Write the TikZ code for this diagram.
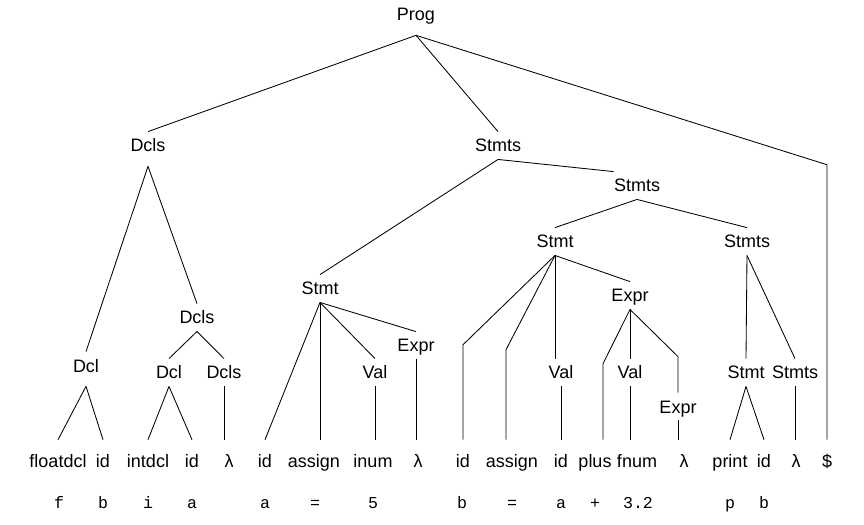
\documentclass[tikz,border=0pt]{standalone}
\usepackage{fontspec}
\setmainfont{Liberation Sans}
\setmonofont{Liberation Mono}
\usepackage{tikz}
\usetikzlibrary{calc}

\begin{document}
\begin{tikzpicture}[
  x=0.025cm, y=-0.025cm,
  font=\fontsize{12.8}{15}\selectfont,
  line width=0.6pt,
  sym/.style={inner sep=0pt,anchor=base,text height=14.2pt,text depth=5pt},
  deep/.style={text depth=9.9pt},
  leaf/.style={sym,text height=19.8pt},
  lex/.style={inner sep=0pt,anchor=base,font=\ttfamily\fontsize{11.8}{14}\selectfont}
]
\useasboundingbox (0,0) rectangle (864,525);

% nonterminals
\node[sym,deep] (prog) at (416,21) {Prog};
\node[sym,deep] (dclsA) at (148,152) {Dcls};
\node[sym] (stmtsA) at (498,152) {Stmts};
\node[sym] (stmtsB) at (637,192) {Stmts};
\node[sym] (stmtB) at (555,248) {Stmt};
\node[sym] (stmtsC) at (747,248) {Stmts};
\node[sym] (stmtA) at (320,295) {Stmt};
\node[sym] (exprC) at (630,302) {Expr};
\node[sym] (dclsB) at (197,324) {Dcls};
\node[sym] (exprA) at (416,352) {Expr};
\node[sym,deep] (dclA) at (86,372) {Dcl};
\node[sym] (dclB) at (169,379) {Dcl};
\node[sym] (dclsC) at (224,379) {Dcls};
\node[sym] (valA) at (375,379) {Val};
\node[sym] (valB) at (561,379) {Val};
\node[sym] (valC) at (630,379) {Val};
\node[sym] (stmtC) at (746,379) {Stmt};
\node[sym] (stmtsD) at (795,379) {Stmts};
\node[sym] (exprB) at (678,413) {Expr};

% tokens
\node[leaf] (floatdcl) at (58,468) {floatdcl};
\node[leaf] (idA) at (103,468) {id};
\node[leaf] (intdcl) at (148,468) {intdcl};
\node[leaf] (idB) at (192,468) {id};
\node[leaf] (lamA) at (229,468) {λ};
\node[leaf] (idC) at (265,468) {id};
\node[leaf] (asgA) at (314,468) {assign};
\node[leaf] (inum) at (373,468) {inum};
\node[leaf] (lamB) at (418,468) {λ};
\node[leaf] (idD) at (463,468) {id};
\node[leaf] (asgB) at (512,468) {assign};
\node[leaf] (idE) at (561,468) {id};
\node[leaf] (plus) at (595,468) {plus};
\node[leaf] (fnum) at (637,468) {fnum};
\node[leaf] (lamC) at (684,468) {λ};
\node[leaf] (print) at (730,468) {print};
\node[leaf] (idF) at (764,468) {id};
\node[leaf] (lamD) at (796,468) {λ};
\node[leaf] (dollar) at (827,468) {\$};

% source text
\foreach \x/\t [count=\i] in {59/f,103/b,148/i,192/a,265/a,315/=,373/5,462/b,512/=,561/a,595/+,638/3.2,730/p,764/b}
  \node[lex] (lex\i) at (\x,509) {\t};

% branches
\draw (prog.south) -- (dclsA.north);
\draw (prog.south) -- (stmtsA.north);
\draw (dollar.north) -- ++(0,-275) -- (prog.south);
\draw (dclsA.south) -- (dclA.north);
\draw (dclsA.south) -- (dclsB.north);
\draw (dclA.south) -- (floatdcl.north);
\draw (dclA.south) -- (idA.north);
\draw (dclsB.south) -- (dclB.north);
\draw (dclsB.south) -- (dclsC.north);
\draw (dclB.south) -- (intdcl.north);
\draw (dclB.south) -- (idB.north);
\draw (dclsC.south) -- (dclsC.south |- lamA.north);
\draw (stmtsA.south) -- (stmtA.north);
\draw (stmtsA.south) -- (stmtsB.north west);
\draw (stmtA.south) -- (idC.north);
\draw (stmtA.south) -- (stmtA.south |- asgA.north);
\draw (stmtA.south) -- (valA.north);
\draw (stmtA.south) -- (exprA.north);
\draw (valA.south) -- (valA.south |- inum.north);
\draw (exprA.south) -- (exprA.south |- lamB.north);
\draw (stmtsB.south) -- (stmtB.north);
\draw (stmtsB.south) -- (stmtsC.north);
\draw (idD.north) -- ++(0,-95) -- (stmtB.south);
\draw ($(asgB.north)+(-6,0)$) -- ++(0,-90) -- (stmtB.south);
\draw (stmtB.south) -- (stmtB.south |- valB.north);
\draw (stmtB.south) -- (exprC.north);
\draw (valB.south) -- (valB.south |- idE.north);
\draw ($(plus.north)+(8,0)$) -- ++(0,-76) -- (exprC.south);
\draw (exprC.south) -- (exprC.south |- valC.north);
\draw (exprB.north) -- ++(0,-36) -- (exprC.south);
\draw (valC.south) -- (valC.south |- fnum.north);
\draw (exprB.south) -- (exprB.south |- lamC.north);
\draw (stmtsC.south) -- (stmtC.north);
\draw (stmtsC.south) -- (stmtsD.north);
\draw (stmtC.south) -- (print.north);
\draw (stmtC.south) -- (idF.north);
\draw (stmtsD.south) -- (stmtsD.south |- lamD.north);
\end{tikzpicture}
\end{document}
